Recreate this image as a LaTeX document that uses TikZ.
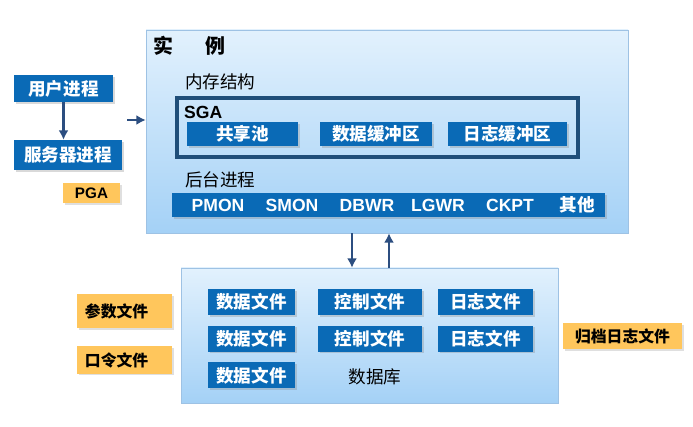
\documentclass[tikz,border=0pt]{standalone}
\usepackage{fontspec}
\setmainfont{Liberation Sans}
\newfontfamily\cjk{Noto Sans CJK SC}
\usetikzlibrary{positioning, arrows.meta, fit, shadows}

\definecolor{boxblue}{RGB}{10,106,182}
\definecolor{frameblue}{RGB}{31,78,121}
\definecolor{arrowblue}{RGB}{44,78,128}
\definecolor{paleorange}{RGB}{255,198,92}
\definecolor{paneltop}{RGB}{226,241,253}
\definecolor{panelbot}{RGB}{164,209,246}
\definecolor{panelline}{RGB}{158,194,228}

\tikzset{
    panel/.style={draw=panelline, top color=paneltop, bottom color=panelbot, inner sep=0pt},
    blk/.style={fill=boxblue, text=white, inner sep=0pt,
        font=\cjk\bfseries\fontsize{15}{18}\selectfont,
        drop shadow={shadow xshift=0.05cm, shadow yshift=-0.05cm, opacity=0.3}},
    note/.style={fill=paleorange, text=black, inner sep=0pt,
        font=\cjk\bfseries\fontsize{13.5}{16}\selectfont,
        drop shadow={shadow xshift=0.05cm, shadow yshift=-0.05cm, opacity=0.25}},
    proc/.style={text=white, inner sep=0pt, font=\bfseries\fontsize{15}{18}\selectfont},
    head/.style={inner sep=0pt, font=\cjk\fontsize{15}{18}\selectfont},
    arr/.style={-{Latex[length=8pt, width=8.5pt]}, draw=arrowblue, line width=2.2pt},
}

\begin{document}
\begin{tikzpicture}[x=0.03cm, y=-0.03cm, node distance=1.1cm, on grid]
    \useasboundingbox (0,0) rectangle (693,427);

    % Instance and database panels
    \node[panel, fit={(146,30) (628,233)}] (inst) {};
    \node[panel, fit={(181,268) (558,403)}] (db) {};

    % Instance contents
    \node[anchor=west, inner sep=0pt, font=\cjk\bfseries\fontsize{17}{18}\selectfont] (title) at (153,46) {实\hspace{1.6em}例};
    \node[head, anchor=west] (memhead) at (185,82) {内存结构};
    \node[draw=frameblue, line width=2.8pt, inner sep=0pt, fit={(177,98) (578,157)}] (sgaframe) {};
    \node[anchor=west, inner sep=0pt, font=\bfseries\fontsize{15}{18}\selectfont] (sga) at (184,112) {SGA};
    \node[blk, minimum width=3.33cm, minimum height=0.72cm] (pool) at (242.5,134) {共享池};
    \node[blk, minimum width=3.36cm, minimum height=0.72cm] (dbbuf) at (376,134) {数据缓冲区};
    \node[blk, minimum width=3.57cm, minimum height=0.72cm] (logbuf) at (507.5,134) {日志缓冲区};
    \node[head, anchor=west] (bghead) at (185,180) {后台进程};
    \node[blk, minimum width=12.99cm, minimum height=0.72cm] (bar) at (388.5,205) {};
    \node[proc] (pmon) at (218,205) {PMON};
    \node[proc] (smon) at (292,205) {SMON};
    \node[proc] (dbwr) at (367,205) {DBWR};
    \node[proc] (lgwr) at (438,205) {LGWR};
    \node[proc] (ckpt) at (510,205) {CKPT};
    \node[proc, font=\cjk\bfseries\fontsize{15}{18}\selectfont] (other) at (577,205) {其他};

    % User side
    \node[blk, minimum width=2.97cm, minimum height=0.81cm] (user) at (63.5,88.5) {用户进程};
    \node[blk, minimum width=3.24cm, minimum height=0.9cm] (server) at (68,155) {服务器进程};
    \node[note, font=\bfseries\fontsize{13}{16}\selectfont, minimum width=1.71cm, minimum height=0.6cm] (pga) at (91.5,193) {PGA};

    % Database files
    \node[blk, minimum width=2.61cm, minimum height=0.78cm] (df1) at (251.5,302) {数据文件};
    \node[blk, minimum width=2.61cm, minimum height=0.78cm] (df2) [below=of df1] {数据文件};
    \node[blk, minimum width=2.61cm, minimum height=0.78cm] (df3) [below=of df2] {数据文件};
    \node[blk, minimum width=3.12cm, minimum height=0.78cm] (cf1) at (370,302) {控制文件};
    \node[blk, minimum width=3.12cm, minimum height=0.78cm] (cf2) [below=of cf1] {控制文件};
    \node[blk, minimum width=2.85cm, minimum height=0.78cm] (lf1) at (485.5,302) {日志文件};
    \node[blk, minimum width=2.85cm, minimum height=0.78cm] (lf2) [below=of lf1] {日志文件};
    \node[head] (dbname) at (375,377) {数据库};

    % Outside files
    \node[note, minimum width=2.85cm, minimum height=1.02cm, text width=2.37cm, align=left] (param) at (124.5,311) {参数文件};
    \node[note, minimum width=2.85cm, minimum height=0.81cm, text width=2.37cm, align=left] (pwd) at (124.5,360) {口令文件};
    \node[note, minimum width=3.57cm, minimum height=0.78cm] (arch) at (622.5,336) {归档日志文件};

    % Arrows
    \coordinate (inl) at (127,120);
    \coordinate (dn) at (352,0);
    \coordinate (up) at (389,0);
    \draw[arr] (user.south) -- (user.south |- server.north);
    \draw[arr] (inl) -- (inl -| inst.west);
    \draw[arr] (inst.south -| dn) -- (db.north -| dn);
    \draw[arr] (db.north -| up) -- (inst.south -| up);
\end{tikzpicture}
\end{document}
